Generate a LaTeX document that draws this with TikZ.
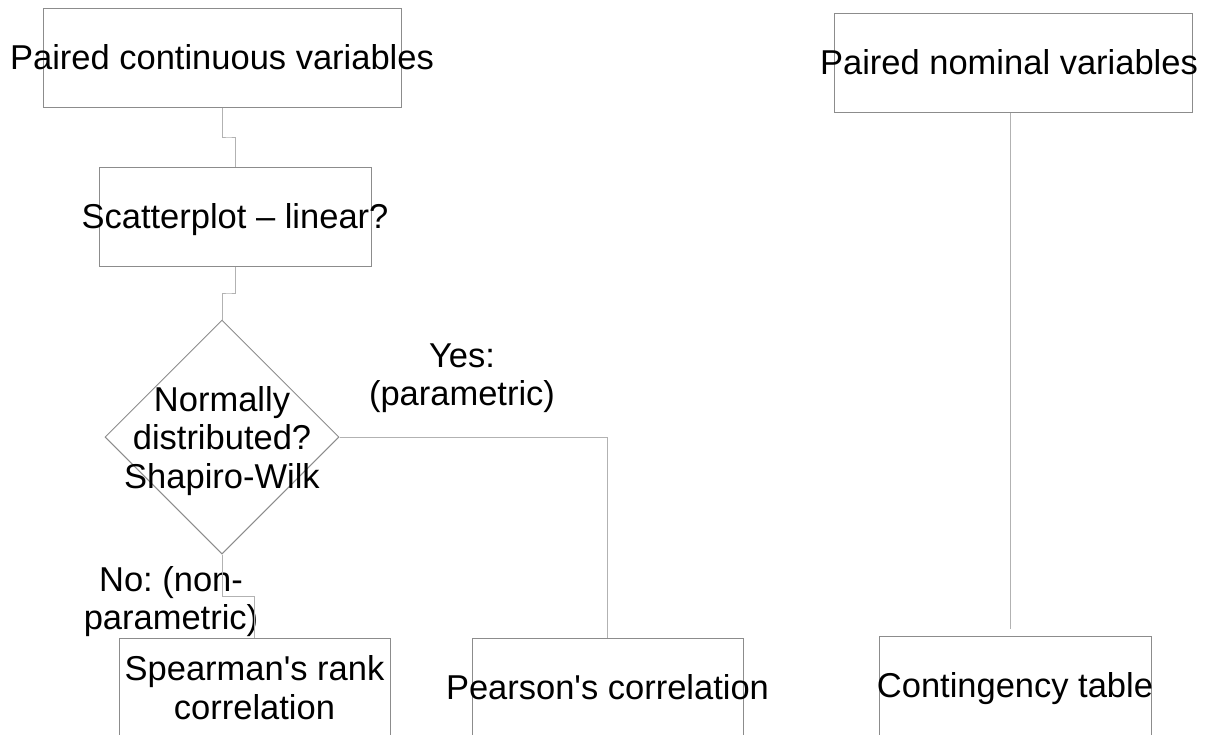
\documentclass[tikz,border=0pt]{standalone}
\usepackage{fontspec}
\setmainfont{Liberation Sans}
\usetikzlibrary{shapes.geometric,calc}
\frenchspacing
% strut giving every text line the same ascent and descent
\newcommand{\lstr}{\rule[-7.3pt]{0pt}{38.5pt}}
\newcommand{\ap}{\textquotesingle}
\tikzset{
  box/.style={draw=black!45, line width=1pt, rectangle, inner sep=0pt,
    minimum width=#1, minimum height=99pt},
  box/.default=272pt,
  decision/.style={draw=black!45, line width=1pt, diamond, inner sep=0pt,
    minimum width=234pt, minimum height=234pt},
  txt/.style={inner sep=0pt, align=center, text=black,
    font=\fontsize{34.5pt}{38.5pt}\selectfont},
  link/.style={draw=black!30, line width=1pt}
}
\begin{document}
\begin{tikzpicture}[x=1pt, y=-1pt]
\useasboundingbox (0,0) rectangle (1207,734);
\clip (0,0) rectangle (1207,734);

% shapes
\node[box=358pt] (pcv) at (222,57.5) {};
\node[box] (scat) at (235,216.5) {};
\node[decision] (dist) at (222,437) {};
\node[box=271pt] (spear) at (254.5,688) {};
\node[box=271pt] (pear) at (607.5,687.5) {};
\node[box=358pt] (nom) at (1013,62.5) {};
\node[box] (cont) at (1015,685.5) {};

% texts
\node[txt] (pcvt) at (pcv) {Paired continuous variables\lstr};
\node[txt] (scatt) at (scat) {Scatterplot -- linear?\lstr};
\node[txt] (distt) at (222,438) {Normally\lstr\\distributed?\lstr\\Shapiro-Wilk\lstr};
\node[txt] (speart) at (spear) {Spearman\ap s rank\lstr\\correlation\lstr};
\node[txt] (peart) at (pear) {Pearson\ap s correlation\lstr};
\node[txt] (nomt) at (1009,62.5) {Paired nominal variables\lstr};
\node[txt] (contt) at (cont) {Contingency table\lstr};
\node[txt] (yes) at (462,374.5) {Yes:\lstr\\(parametric)\lstr};
\node[txt] (no) at (171,598.5) {No: (non-\lstr\\parametric)\lstr};

% connectors
\coordinate (m1) at ($(pcv.south)!0.5!(scat.north)$);
\draw[link] (pcv.south) |- (m1) -| (scat.north);
\coordinate (m2) at ($(scat.south)!0.5!(dist.north)$);
\draw[link] (scat.south) |- (m2) -| (dist.north);
\coordinate (m3) at ($(dist.south)!0.5!(spear.north)$);
\draw[link] (dist.south) |- (m3) -| (spear.north);
\draw[link] (dist.east) -| (pear.north);
\coordinate (nomend) at (1010,629);
\draw[link] (nom.south -| nomend) -- (nomend);
\end{tikzpicture}
\end{document}
